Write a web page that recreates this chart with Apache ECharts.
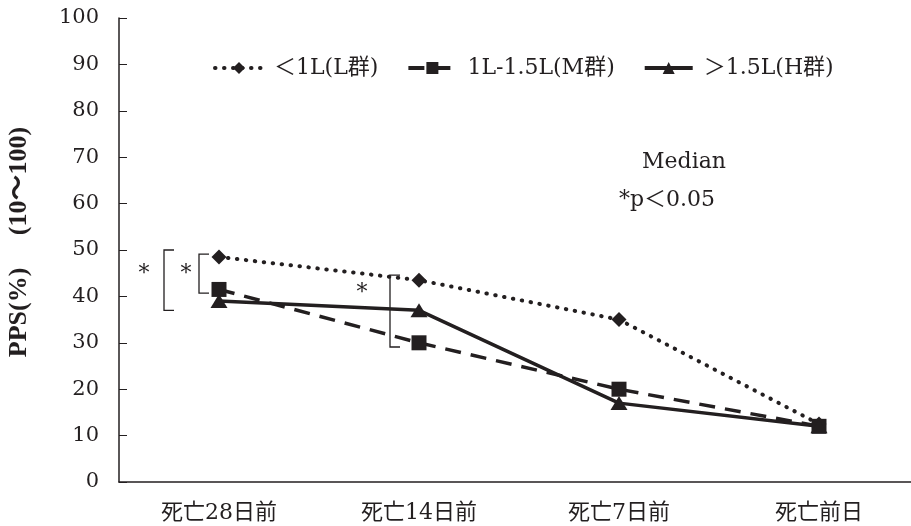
<!DOCTYPE html>
<html><head><meta charset="utf-8">
<script src="https://cdn.jsdelivr.net/npm/echarts@6/dist/echarts.min.js"></script>
<style>html,body{margin:0;padding:0;background:#fff}#c{width:911px;height:526px}</style>
</head><body><div id="c"></div>
<script>
const categories = ['死亡28日前', '死亡14日前', '死亡7日前', '死亡前日'];
const seriesNames = ['＜1L(L群)', '1L-1.5L(M群)', '＞1.5L(H群)'];
const valuesL = [48.5, 43.5, 35, 12.5];
const valuesM = [41.5, 30, 20, 12];
const valuesH = [39, 37, 17, 12];
const yTicks = {min: 0, max: 100, interval: 10};
// significance brackets: [categoryIndex, topValue, bottomValue]
const brackets = [[0, 50, 37], [0, 49.1, 40.7], [1, 44.6, 29.1]];

const INK = '#231f20';
const FONT = "'DejaVu Serif', 'Noto Sans CJK JP', serif";
const chart = echarts.init(document.getElementById('c'));
const option = {
  backgroundColor: '#fff',
  animation: false,
  grid: {left: 119, top: 18, bottom: 44, width: 800, outerBoundsMode: 'none', containLabel: false},
  legend: {
    left: 208, top: 52, itemWidth: 48, itemHeight: 15, itemGap: 28,
    textStyle: {fontFamily: FONT, fontSize: 22, color: INK, padding: [0, 0, 0, 6]},
    data: [
      {name: seriesNames[0], lineStyle: {width: 4}},
      {name: seriesNames[1], lineStyle: {width: 4}},
      {name: seriesNames[2], lineStyle: {width: 4}}
    ]
  },
  xAxis: {
    type: 'category', data: categories, boundaryGap: true,
    axisLine: {lineStyle: {color: INK, width: 1.5}},
    axisTick: {inside: true, alignWithLabel: true, length: 5, lineStyle: {color: INK}},
    axisLabel: {fontFamily: FONT, fontSize: 22, color: INK, margin: 20}
  },
  yAxis: {
    type: 'value', min: yTicks.min, max: yTicks.max, interval: yTicks.interval,
    name: 'PPS(%)\u3000 (10～100)', nameLocation: 'middle', nameGap: 87, nameRotate: 90,
    nameTextStyle: {fontFamily: "'Liberation Serif', 'Noto Sans CJK JP', serif", fontSize: 26, fontWeight: 'bold', color: INK, padding: [0, 0, 0, 16]},
    splitLine: {show: false},
    axisLine: {show: true, lineStyle: {color: INK, width: 1.5}},
    axisTick: {show: true, inside: true, length: 8, lineStyle: {color: INK}},
    axisLabel: {fontFamily: FONT, fontSize: 21, color: INK, margin: 20}
  },
  series: [
    {name: seriesNames[0], type: 'line', data: valuesL, symbol: 'diamond', symbolSize: 15,
     itemStyle: {color: INK}, lineStyle: {color: INK, width: 4, type: [0.5, 8.5], cap: 'round'}},
    {name: seriesNames[1], type: 'line', data: valuesM, symbol: 'rect', symbolSize: 15,
     itemStyle: {color: INK}, lineStyle: {color: INK, width: 3.5, type: [16, 10]}},
    {name: seriesNames[2], type: 'line', data: valuesH, symbol: 'triangle', symbolSize: [17, 14],
     itemStyle: {color: INK}, lineStyle: {color: INK, width: 3.5, type: 'solid'}}
  ]
};
chart.setOption(option);

const offsets = [[-55, -75], [-20, -33], [-29, -57]];
const graphics = [];
brackets.forEach((b, i) => {
  const top = chart.convertToPixel({gridIndex: 0}, [b[0], b[1]]);
  const bot = chart.convertToPixel({gridIndex: 0}, [b[0], b[2]]);
  const x = top[0] + offsets[i][0];
  graphics.push({type: 'polyline', shape: {points: [[x + 10, top[1]], [x, top[1]], [x, bot[1]], [x + 10, bot[1]]]},
    style: {stroke: INK, lineWidth: 1.3, fill: null}});
  graphics.push({type: 'text', x: top[0] + offsets[i][1], y: i === 2 ? top[1] + 18 : 274,
    style: {text: '*', font: '22px ' + FONT, fill: INK, align: 'center', verticalAlign: 'middle'}});
});
graphics.push({type: 'text', x: 684, y: 162, style: {text: 'Median', font: '22px ' + FONT, fill: INK, align: 'center', verticalAlign: 'middle'}});
graphics.push({type: 'text', x: 619, y: 200, style: {text: '*p＜0.05', font: '22px ' + FONT, fill: INK, align: 'left', verticalAlign: 'middle'}});
chart.setOption({graphic: graphics});
</script></body></html>
